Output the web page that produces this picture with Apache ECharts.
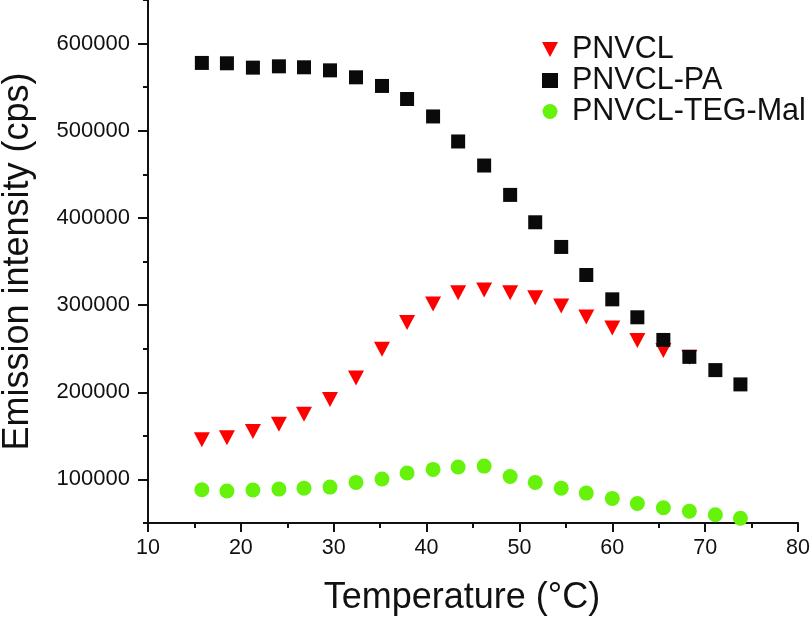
<!DOCTYPE html>
<html lang="en">
<head>
    <meta charset="UTF-8">
    <title>Emission intensity vs temperature</title>
    <script type="text/javascript" src="https://cdn.jsdelivr.net/npm/echarts@6/dist/echarts.min.js"></script>
    <style>
        html, body { margin: 0; padding: 0; background: #fff; }
    </style>
</head>
<body>
<div id="main" style="width: 810px;height:623px;"></div>
<script>
    // temperatures (°C)
    var temps = [15.8, 18.5, 21.3, 24.1, 26.8, 29.6, 32.4, 35.2, 37.9, 40.7, 43.4,
        46.2, 49.0, 51.7, 54.5, 57.2, 60.0, 62.7, 65.5, 68.3, 71.1, 73.8];

    var pnvcl = [145600, 147900, 155100, 163200, 174700, 191600, 216400, 249400, 280000, 301100,
        314100, 317200, 314100, 308400, 298900, 286200, 273800, 259400, 247800, 240200];
    var pnvclPA = [577800, 577400, 572400, 573900, 572800, 569300, 561300, 551400, 536400, 516400, 487700,
        460100, 426400, 395000, 366700, 334500, 306600, 286000, 260000, 240600, 225400, 209000];
    var pnvclTEG = [88200, 86700, 87800, 88900, 90000, 91200, 96600, 100400, 107300, 111500, 114200,
        115300, 103400, 96600, 90000, 84300, 78200, 72400, 67500, 63600, 59400, 55500];

    var yMajor = [100000, 200000, 300000, 400000, 500000, 600000];

    function pairs(xs, ys) {
        var out = [];
        for (var i = 0; i < ys.length; i++) out.push([xs[i], ys[i]]);
        return out;
    }

    var font = 'Liberation Sans, Arial, sans-serif';
    var axisColor = '#111';
    var downTriangle = 'path://M0,0 L16,0 L8,15 Z';

    var myChart = echarts.init(document.getElementById('main'));

    var option = {
        animation: false,
        backgroundColor: '#fff',
        grid: {
            left: 148, right: 12, top: 0, bottom: 100,
            containLabel: false,
            outerBoundsMode: 'none'
        },
        legend: {
            orient: 'vertical',
            left: 537,
            top: 29,
            itemWidth: 16,
            itemHeight: 15,
            itemGap: 0,
            textStyle: {
                fontFamily: font,
                fontSize: 30.5,
                color: '#111',
                lineHeight: 28,
                padding: [0, 0, 0, 9]
            },
            data: ['PNVCL', 'PNVCL-PA', 'PNVCL-TEG-Mal']
        },
        xAxis: [{
            type: 'value',
            min: 10,
            max: 80,
            interval: 10,
            name: 'Temperature (°C)',
            nameLocation: 'middle',
            nameGap: 57,
            nameTextStyle: {
                fontFamily: font, fontSize: 36, color: '#111',
                padding: [0, 22, 0, 0]
            },
            axisLine: { show: true, lineStyle: { color: axisColor, width: 2 } },
            axisTick: { show: true, inside: false, length: 9, lineStyle: { color: axisColor, width: 2 } },
            minorTick: { show: true, splitNumber: 2, length: 5, lineStyle: { color: axisColor, width: 2 } },
            axisLabel: { fontFamily: font, fontSize: 21.5, color: '#111', margin: 14 },
            splitLine: { show: false },
            minorSplitLine: { show: false }
        }],
        yAxis: [{
            type: 'value',
            min: 50000,
            max: 650000,
            interval: 50000,
            name: 'Emission intensity (cps)',
            nameLocation: 'middle',
            nameGap: 112,
            nameTextStyle: {
                fontFamily: font, fontSize: 36, color: '#111'
            },
            axisLine: { show: true, lineStyle: { color: axisColor, width: 2 } },
            axisTick: { show: true, inside: false, length: 5, lineStyle: { color: axisColor, width: 2 } },
            axisLabel: {
                fontFamily: font, fontSize: 22, color: '#111', margin: 18,
                formatter: function (v) {
                    return yMajor.indexOf(v) >= 0 ? String(v) : '';
                }
            },
            splitLine: { show: false }
        }, {
            // overlaid axis only for the longer major ticks
            type: 'value',
            position: 'left',
            offset: 0,
            min: 50000,
            max: 650000,
            axisLine: { show: false },
            axisTick: { show: true, length: 10, customValues: yMajor, lineStyle: { color: axisColor, width: 2 } },
            axisLabel: { show: false },
            splitLine: { show: false }
        }],
        series: [{
            name: 'PNVCL',
            type: 'scatter',
            symbol: downTriangle,
            symbolSize: [16, 15],
            itemStyle: { color: '#ff0000', opacity: 1 },
            data: pairs(temps, pnvcl)
        }, {
            name: 'PNVCL-PA',
            type: 'scatter',
            symbol: 'rect',
            symbolSize: 14,
            itemStyle: { color: '#0a0a0a', opacity: 1 },
            data: pairs(temps, pnvclPA)
        }, {
            name: 'PNVCL-TEG-Mal',
            type: 'scatter',
            symbol: 'circle',
            symbolSize: 15,
            itemStyle: { color: '#66f20a', opacity: 1 },
            data: pairs(temps, pnvclTEG)
        }]
    };

    myChart.setOption(option);
</script>
</body>
</html>
